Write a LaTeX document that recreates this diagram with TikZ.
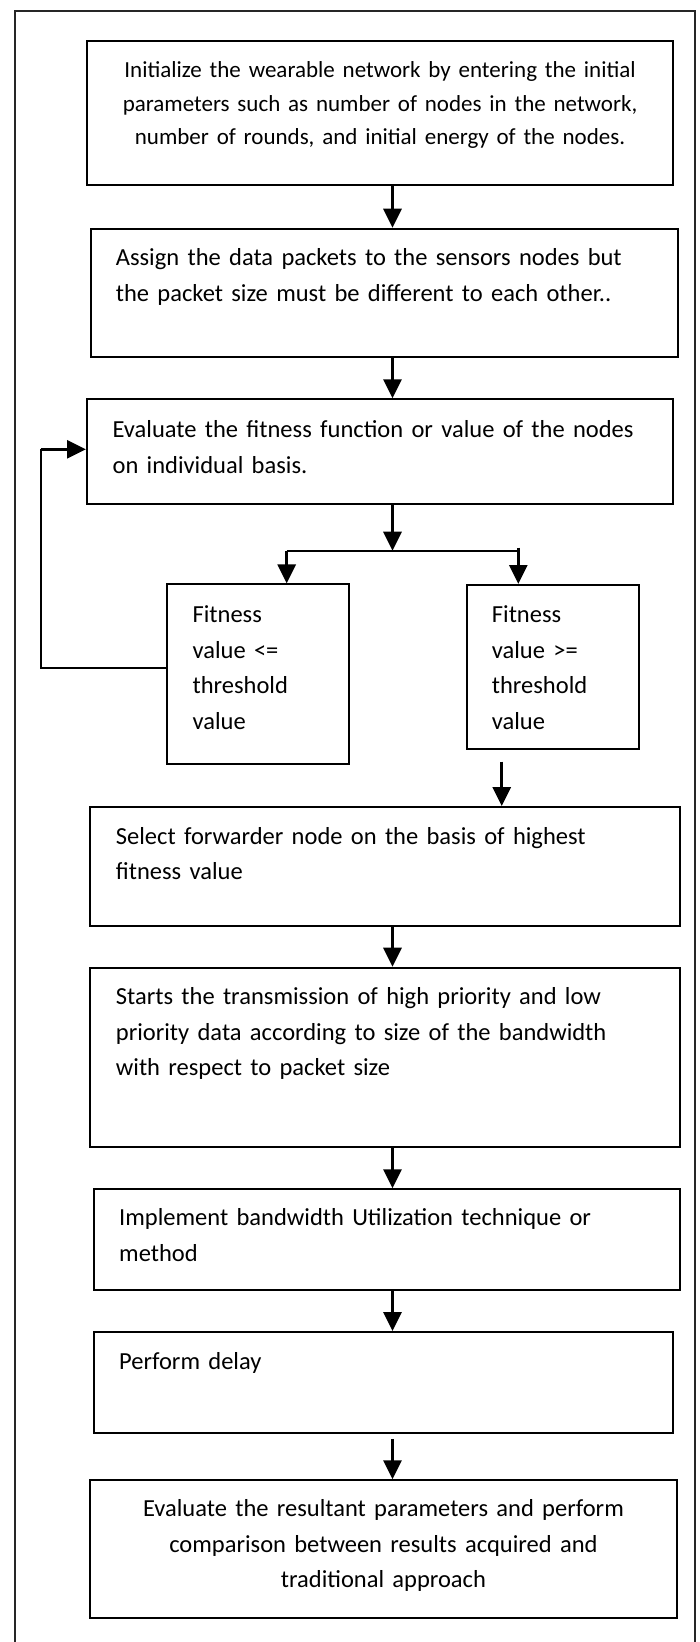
\documentclass[tikz,border=0pt]{standalone}
\usepackage{fontspec}
\setmainfont{Carlito}
\usetikzlibrary{arrows.meta}

\tikzset{
  flowbox/.style={draw, line width=1.8pt, inner ysep=0pt, anchor=north west, align=left,
    font=\fontsize{24.5}{35.5}\selectfont, execute at begin node={\spaceskip=0.34em\relax}},
  flowarrow/.style={line width=3pt, -{Triangle[length=19pt,width=18pt]}},
  loopline/.style={line width=2.2pt},
}

\begin{document}
\begin{tikzpicture}[x=1pt,y=-1pt,line join=miter]
  \useasboundingbox (0,0) rectangle (700,1642);
  % outer frame
  \draw[line width=2pt,black!85] (15,1642) -- (15,10.5) -- (695,10.5) -- (695,1642);
  % main column
  \node[flowbox, align=center, inner xsep=12pt, text width=562.3pt, text height=36.7pt, text depth=107.6pt,
    font=\fontsize{23}{33.5}\selectfont] (init) at (86,40)
    {Initialize the wearable network by entering the initial\\
     parameters such as number of nodes in the network,\\
     number of rounds, and initial energy of the nodes.};
  \node[flowbox, inner xsep=25pt, text width=536.7pt, text height=37.3pt, text depth=90.7pt] (assign) at (90,227.7)
    {Assign the data packets to the sensors nodes but\\
     the packet size must be different to each other..};
  \node[flowbox, inner xsep=25.7pt, text width=534.9pt, text height=38.4pt, text depth=66pt] (evalfit) at (86,398.3)
    {Evaluate the fitness function or value of the nodes\\
     on individual basis.};
  % two branches
  \node[flowbox, inner xsep=25.7pt, text width=130.3pt, text height=38.7pt, text depth=141.3pt] (low) at (166,583.3)
    {Fitness\\ value <=\\ threshold\\ value};
  \node[flowbox, inner xsep=25.3pt, text width=122pt, text height=37.7pt, text depth=126.6pt] (high) at (465.7,584)
    {Fitness\\ value >=\\ threshold\\ value};
  \node[flowbox, inner xsep=25.7pt, text width=538.3pt, text height=37.3pt, text depth=81.7pt] (select) at (89.3,806)
    {Select forwarder node on the basis of highest\\
     fitness value};
  \node[flowbox, inner xsep=25.7pt, text width=538.3pt, text height=37.3pt, text depth=141.7pt] (transmit) at (89.3,966.7)
    {Starts the transmission of high priority and low\\
     priority data according to size of the bandwidth\\
     with respect to packet size};
  \node[flowbox, inner xsep=25pt, text width=535.7pt, text height=36.7pt, text depth=64pt] (utilize) at (93.3,1188.3)
    {Implement bandwidth Utilization technique or\\
     method};
  \node[flowbox, inner xsep=25pt, text width=529pt, text height=37.3pt, text depth=63.7pt] (delay) at (93.3,1331)
    {Perform delay};
  \node[flowbox, align=center, inner xsep=12pt, text width=562.3pt, text height=36.7pt, text depth=101pt] (result) at (89.4,1479.3)
    {Evaluate the resultant parameters and perform\\
     comparison between results acquired and\\
     traditional approach};
  % helper points
  \coordinate (axis) at (392.5,0);
  \coordinate (split) at (392.5,550.7);
  \coordinate (splitL) at (286.7,550.7);
  \coordinate (splitR) at (518.3,550.7);
  \coordinate (back) at (40.7,668.3);
  \coordinate (backtop) at (40.7,449.3);
  \coordinate (go) at (501.7,761.7);
  % connectors
  \draw[flowarrow] (init.south -| axis) -- (assign.north -| axis);
  \draw[flowarrow] (assign.south -| axis) -- (evalfit.north -| axis);
  \draw[flowarrow] (evalfit.south -| axis) -- (split);
  \draw[loopline] (splitL) -- (splitR);
  \draw[flowarrow] (splitL) -- (splitL |- low.north);
  \draw[flowarrow] ([yshift=3pt]splitR) -- (splitR |- high.north);
  \draw[loopline] (low.west |- back) -- (back) -- (backtop);
  \draw[flowarrow] (backtop) -- (backtop -| evalfit.west);
  \draw[flowarrow] (go) -- (go |- select.north);
  \draw[flowarrow] (select.south -| axis) -- (transmit.north -| axis);
  \draw[flowarrow] (transmit.south -| axis) -- (utilize.north -| axis);
  \draw[flowarrow] (utilize.south -| axis) -- (delay.north -| axis);
  \draw[flowarrow] ([yshift=-5pt]delay.south -| axis) -- (result.north -| axis);
\end{tikzpicture}
\end{document}
